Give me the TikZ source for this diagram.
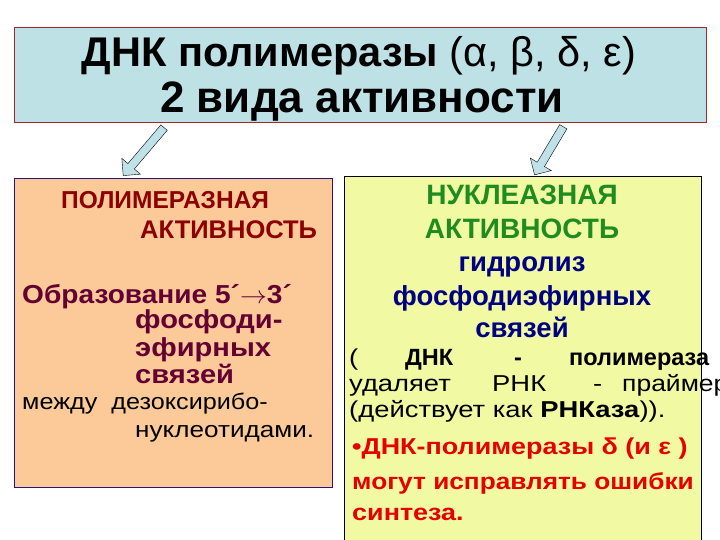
\documentclass[tikz,border=0pt]{standalone}
\usepackage{fontspec}
\setmainfont{Liberation Sans}
\usetikzlibrary{shapes.arrows}
\definecolor{titleblue}{RGB}{190,225,230}
\definecolor{titleline}{RGB}{160,40,40}
\definecolor{peach}{RGB}{251,202,152}
\definecolor{peachline}{RGB}{40,20,120}
\definecolor{lemon}{RGB}{241,249,162}
\definecolor{arrowblue}{RGB}{190,226,232}
\definecolor{polred}{RGB}{140,0,0}
\definecolor{maroon}{RGB}{100,0,50}
\definecolor{nucgreen}{RGB}{30,140,30}
\definecolor{hydblue}{RGB}{0,0,130}
\definecolor{fixred}{RGB}{230,0,0}

\begin{document}
\begin{tikzpicture}[x=1pt,y=-1pt,
    txt/.style={anchor=base west,inner sep=0pt},
    ctxt/.style={anchor=base,inner sep=0pt},
    bigarrow/.style={single arrow,draw,fill=arrowblue,inner sep=4pt,
      single arrow head extend=8pt,single arrow head indent=0pt}]
\useasboundingbox (0,0) rectangle (720,540);
\clip (0,0) rectangle (720,540);
\fill[white] (0,0) rectangle (720,540);

% title
\node[draw=titleline,fill=titleblue,minimum width=692,minimum height=95,
  anchor=north west,inner sep=0pt] (title) at (14,27) {};
\node[ctxt,font=\fontsize{41.5}{46}\selectfont] (t1) at (359,67)
  {\textbf{ДНК полимеразы} (α, β, δ, ε)};
\node[ctxt,font=\fontsize{44}{48}\selectfont\bfseries] (t2) at (362,113)
  {2 вида активности};

% arrows
\node[bigarrow,minimum height=63,rotate=229.6] (arrL) at (145,150) {};
\node[bigarrow,minimum height=56,rotate=239.2] (arrR) at (550,149) {};

% left box
\node[draw=peachline,fill=peach,minimum width=318,minimum height=309,
  anchor=north west,inner sep=0pt] (pol) at (14,178) {};
\begin{scope}[font=\fontsize{24.5}{28}\selectfont\bfseries,color=polred]
  \node[txt] (p1) at (61,209) {ПОЛИМЕРАЗНАЯ};
  \node[txt,font=\fontsize{25.5}{28}\selectfont\bfseries] (p2) at (140,239) {АКТИВНОСТЬ};
\end{scope}
\begin{scope}[font=\fontsize{26}{28}\selectfont\bfseries,color=maroon]
  \node[txt,xscale=1.08] (p3) at (22,303) {Образование 5´$\rightarrow$3´};
  \node[txt,xscale=1.12] (p4) at (135,328) {фосфоди-};
  \node[txt,xscale=1.12] (p5) at (135,356) {эфирных};
  \node[txt,xscale=1.12] (p6) at (135,383) {связей};
\end{scope}
\begin{scope}[font=\fontsize{22.5}{26}\selectfont]
  \node[txt,xscale=1.12] (p7) at (22,409) {между\ \ дезоксирибо-};
  \node[txt,xscale=1.16] (p8) at (135,437) {нуклеотидами.};
\end{scope}

% right box
\node[draw=black,fill=lemon,minimum width=357,minimum height=380,
  anchor=north west,inner sep=0pt] (nuc) at (344,176) {};
\begin{scope}[font=\fontsize{28}{30}\selectfont\bfseries,color=nucgreen]
  \node[ctxt] (n1) at (522,205) {НУКЛЕАЗНАЯ};
  \node[ctxt] (n2) at (522,239) {АКТИВНОСТЬ};
\end{scope}
\begin{scope}[font=\fontsize{27.5}{30}\selectfont\bfseries,color=hydblue]
  \node[ctxt] (n3) at (522,271) {гидролиз};
  \node[ctxt] (n4) at (522,305) {фосфодиэфирных};
  \node[ctxt] (n5) at (522,337) {связей};
\end{scope}
\begin{scope}[font=\fontsize{23}{26}\selectfont]
  \node[txt,xscale=1.19] (n6a) at (349,365) {(};
  \node[txt,font=\fontsize{23.5}{26}\selectfont\bfseries] (n6b) at (405,365) {ДНК};
  \node[txt,font=\fontsize{23.5}{26}\selectfont\bfseries] (n6c) at (514,365) {-};
  \node[txt,font=\fontsize{23.5}{26}\selectfont\bfseries] (n6d) at (569,365) {полимераза};
  \node[txt,xscale=1.19] (n7a) at (349,391) {удаляет};
  \node[txt,xscale=1.19] (n7b) at (492,391) {РНК};
  \node[txt,xscale=1.19] (n7c) at (593,391) {-};
  \node[txt,xscale=1.15] (n7d) at (622,391) {праймер};
  \node[txt,xscale=1.19] (n8) at (349,417) {(действует как\ \textbf{РНКаза})).};
\end{scope}
\begin{scope}[font=\fontsize{23}{26}\selectfont\bfseries,color=fixred]
  \node[txt,xscale=1.17] (n9) at (352,454) {•ДНК-полимеразы δ (и ε )};
  \node[txt,xscale=1.14] (n10) at (352,489) {могут исправлять ошибки};
  \node[txt,xscale=1.17] (n11) at (352,520) {синтеза.};
\end{scope}
\end{tikzpicture}
\end{document}
